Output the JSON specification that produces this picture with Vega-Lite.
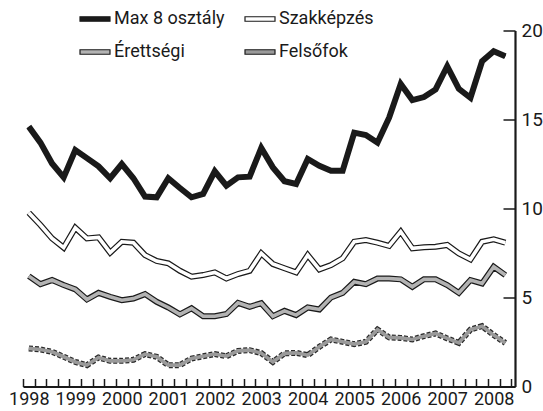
{
  "$schema": "https://vega.github.io/schema/vega-lite/v6.json",
  "width": 492,
  "height": 356,
  "autosize": {"type": "none"},
  "padding": {"left": 23, "top": 30.5, "right": 28, "bottom": 24.5},
  "background": "white",
  "config": {
    "view": {"stroke": null},
    "font": "Roboto"
  },
  "data": {
    "values": [
      {"t": 1998.00, "Max 8 osztály": 14.6, "Szakképzés": 9.76, "Érettségi": 6.2, "Felsőfok": 2.14},
      {"t": 1998.25, "Max 8 osztály": 13.7, "Szakképzés": 9.07, "Érettségi": 5.75, "Felsőfok": 2.08},
      {"t": 1998.50, "Max 8 osztály": 12.53, "Szakképzés": 8.32, "Érettségi": 5.98, "Felsőfok": 1.95},
      {"t": 1998.75, "Max 8 osztály": 11.75, "Szakképzés": 7.8, "Érettségi": 5.7, "Felsőfok": 1.67},
      {"t": 1999.00, "Max 8 osztály": 13.28, "Szakképzés": 8.92, "Érettségi": 5.46, "Felsőfok": 1.38},
      {"t": 1999.25, "Max 8 osztály": 12.83, "Szakképzés": 8.32, "Érettségi": 4.89, "Felsőfok": 1.2},
      {"t": 1999.50, "Max 8 osztály": 12.37, "Szakképzés": 8.38, "Érettségi": 5.26, "Felsőfok": 1.63},
      {"t": 1999.75, "Max 8 osztály": 11.7, "Szakképzés": 7.52, "Érettségi": 5.04, "Felsőfok": 1.44},
      {"t": 2000.00, "Max 8 osztály": 12.5, "Szakképzés": 8.13, "Érettségi": 4.85, "Felsőfok": 1.44},
      {"t": 2000.25, "Max 8 osztály": 11.7, "Szakképzés": 8.08, "Érettségi": 4.94, "Felsőfok": 1.5},
      {"t": 2000.50, "Max 8 osztály": 10.67, "Szakképzés": 7.38, "Érettségi": 5.19, "Felsőfok": 1.82},
      {"t": 2000.75, "Max 8 osztály": 10.63, "Szakképzés": 7.05, "Érettségi": 4.76, "Felsőfok": 1.67},
      {"t": 2001.00, "Max 8 osztály": 11.7, "Szakképzés": 6.92, "Érettségi": 4.44, "Felsőfok": 1.2},
      {"t": 2001.25, "Max 8 osztály": 11.15, "Szakképzés": 6.5, "Érettségi": 4.05, "Felsőfok": 1.2},
      {"t": 2001.50, "Max 8 osztály": 10.63, "Szakképzés": 6.17, "Érettségi": 4.39, "Felsőfok": 1.57},
      {"t": 2001.75, "Max 8 osztály": 10.82, "Szakképzés": 6.26, "Érettségi": 3.95, "Felsőfok": 1.7},
      {"t": 2002.00, "Max 8 osztály": 12.09, "Szakképzés": 6.41, "Érettségi": 3.95, "Felsőfok": 1.82},
      {"t": 2002.25, "Max 8 osztály": 11.28, "Szakképzés": 6.07, "Érettségi": 4.07, "Felsőfok": 1.7},
      {"t": 2002.50, "Max 8 osztály": 11.75, "Szakképzés": 6.32, "Érettségi": 4.7, "Felsőfok": 2.0},
      {"t": 2002.75, "Max 8 osztály": 11.79, "Szakképzés": 6.5, "Érettségi": 4.48, "Felsőfok": 2.04},
      {"t": 2003.00, "Max 8 osztály": 13.4, "Szakképzés": 7.48, "Érettségi": 4.68, "Felsőfok": 1.88},
      {"t": 2003.25, "Max 8 osztály": 12.31, "Szakképzés": 6.88, "Érettségi": 3.95, "Felsőfok": 1.38},
      {"t": 2003.50, "Max 8 osztály": 11.53, "Szakképzés": 6.64, "Érettségi": 4.25, "Felsőfok": 1.86},
      {"t": 2003.75, "Max 8 osztály": 11.38, "Szakképzés": 6.41, "Érettségi": 4.01, "Felsőfok": 1.89},
      {"t": 2004.00, "Max 8 osztály": 12.78, "Szakképzés": 7.38, "Érettségi": 4.44, "Felsőfok": 1.76},
      {"t": 2004.25, "Max 8 osztály": 12.4, "Szakképzés": 6.58, "Érettségi": 4.33, "Felsőfok": 2.23},
      {"t": 2004.50, "Max 8 osztály": 12.12, "Szakképzés": 6.82, "Érettségi": 5.0, "Felsőfok": 2.64},
      {"t": 2004.75, "Max 8 osztály": 12.12, "Szakképzés": 7.2, "Érettségi": 5.26, "Felsőfok": 2.51},
      {"t": 2005.00, "Max 8 osztály": 14.26, "Szakképzés": 8.13, "Érettségi": 5.88, "Felsőfok": 2.38},
      {"t": 2005.25, "Max 8 osztály": 14.13, "Szakképzés": 8.23, "Érettségi": 5.75, "Felsőfok": 2.51},
      {"t": 2005.50, "Max 8 osztály": 13.7, "Szakképzés": 8.08, "Érettségi": 6.07, "Felsőfok": 3.2},
      {"t": 2005.75, "Max 8 osztály": 15.1, "Szakképzés": 7.9, "Érettségi": 6.07, "Felsőfok": 2.76},
      {"t": 2006.00, "Max 8 osztály": 17.0, "Szakképzés": 8.7, "Érettségi": 6.02, "Felsőfok": 2.73},
      {"t": 2006.25, "Max 8 osztály": 16.09, "Szakképzés": 7.76, "Érettségi": 5.6, "Felsőfok": 2.64},
      {"t": 2006.50, "Max 8 osztály": 16.26, "Szakképzés": 7.82, "Érettségi": 6.02, "Felsőfok": 2.83},
      {"t": 2006.75, "Max 8 osztály": 16.69, "Szakképzés": 7.85, "Érettségi": 6.02, "Felsőfok": 2.98},
      {"t": 2007.00, "Max 8 osztály": 17.99, "Szakképzés": 7.95, "Érettségi": 5.7, "Felsőfok": 2.7},
      {"t": 2007.25, "Max 8 osztály": 16.72, "Szakképzés": 7.48, "Érettségi": 5.26, "Felsőfok": 2.45},
      {"t": 2007.50, "Max 8 osztály": 16.22, "Szakképzés": 7.14, "Érettségi": 5.98, "Felsőfok": 3.2},
      {"t": 2007.75, "Max 8 osztály": 18.27, "Szakképzés": 8.13, "Érettségi": 5.79, "Felsőfok": 3.39},
      {"t": 2008.00, "Max 8 osztály": 18.83, "Szakképzés": 8.27, "Érettségi": 6.73, "Felsőfok": 2.89},
      {"t": 2008.25, "Max 8 osztály": 18.55, "Szakképzés": 8.08, "Érettségi": 6.26, "Felsőfok": 2.45}
    ]
  },
  "transform": [
    {"fold": ["Max 8 osztály", "Szakképzés", "Érettségi", "Felsőfok"], "as": ["s", "v"]}
  ],
  "encoding": {
    "x": {
      "field": "t",
      "type": "quantitative",
      "scale": {"domain": [1997.875, 2008.458], "nice": false, "zero": false},
      "axis": {
        "title": null,
        "grid": false,
        "values": [1997.875, 1998.125, 1998.375, 1998.625, 1998.875, 1999.125, 1999.375, 1999.625, 1999.875, 2000.125, 2000.375, 2000.625, 2000.875, 2001.125, 2001.375, 2001.625, 2001.875, 2002.125, 2002.375, 2002.625, 2002.875, 2003.125, 2003.375, 2003.625, 2003.875, 2004.125, 2004.375, 2004.625, 2004.875, 2005.125, 2005.375, 2005.625, 2005.875, 2006.125, 2006.375, 2006.625, 2006.875, 2007.125, 2007.375, 2007.625, 2007.875, 2008.125, 2008.375],
        "labelExpr": "(datum.value + 0.125) % 1 === 0 ? format(datum.value + 0.125, 'd') : ''",
        "labelOffset": 5.8,
        "labelFlush": false,
        "labelOverlap": false,
        "labelBound": false,
        "labelFont": "Roboto",
        "labelFontSize": 18,
        "labelColor": "#1a1a1a",
        "labelPadding": 12,
        "tickSize": -8,
        "tickWidth": 1.5,
        "tickColor": "#1a1a1a",
        "domainColor": "#1a1a1a",
        "domainWidth": 2.2
      }
    },
    "y": {
      "field": "v",
      "type": "quantitative",
      "scale": {"domain": [0, 20], "nice": false},
      "axis": {
        "title": null,
        "orient": "right",
        "grid": false,
        "values": [0, 5, 10, 15, 20],
        "labelFont": "Roboto",
        "labelFontSize": 19,
        "labelColor": "#1a1a1a",
        "labelPadding": 18,
        "tickSize": -12,
        "tickWidth": 1.5,
        "tickColor": "#1a1a1a",
        "domainColor": "#1a1a1a",
        "domainWidth": 2.2
      }
    }
  },
  "layer": [
    {
      "transform": [{"filter": "datum.s !== 'Felsőfok'"}],
      "mark": {"type": "line", "stroke": "#1a1a1a", "strokeWidth": 6, "strokeJoin": "miter", "strokeMiterLimit": 4},
      "encoding": {"detail": {"field": "s", "type": "nominal"}}
    },
    {
      "transform": [{"filter": "datum.s === 'Felsőfok'"}],
      "mark": {"type": "line", "stroke": "#2a2a2a", "strokeWidth": 6, "strokeDash": [4, 2], "strokeJoin": "miter", "strokeMiterLimit": 4},
      "encoding": {"detail": {"field": "s", "type": "nominal"}}
    },
    {
      "mark": {"type": "line", "strokeWidth": 3.6, "strokeJoin": "miter", "strokeMiterLimit": 4},
      "encoding": {
        "stroke": {
          "field": "s", "type": "nominal",
          "scale": {"domain": ["Szakképzés", "Max 8 osztály", "Érettségi", "Felsőfok"], "range": ["#ffffff", "#1a1a1a", "#b3b3b3", "#9a9a9a"]},
          "legend": null
        }
      }
    },
    {
      "transform": [{"filter": "false"}],
      "mark": {"type": "point", "filled": true, "stroke": "#1a1a1a", "strokeWidth": 1.2, "shape": "M-1,-0.15H1V0.15H-1Z", "size": 900, "opacity": 1},
      "encoding": {
        "fill": {
          "field": "s", "type": "nominal",
          "scale": {"domain": ["Max 8 osztály", "Szakképzés", "Érettségi", "Felsőfok"], "range": ["#1a1a1a", "#ffffff", "#b3b3b3", "#9a9a9a"]},
          "legend": {
            "title": null,
            "orient": "none",
            "direction": "horizontal",
            "legendX": 56,
            "legendY": -27.5,
            "columns": 2,
            "columnPadding": 17,
            "rowPadding": 8,
            "symbolType": "M-1,-0.15H1V0.15H-1Z",
            "symbolSize": 900,
            "symbolStrokeWidth": 1.2,
            "symbolStrokeColor": "#1a1a1a",
            "symbolOpacity": 1,
            "labelFont": "Roboto",
            "labelFontSize": 18,
            "labelColor": "#1a1a1a",
            "labelOffset": 3
          }
        }
      }
    }
  ]
}
